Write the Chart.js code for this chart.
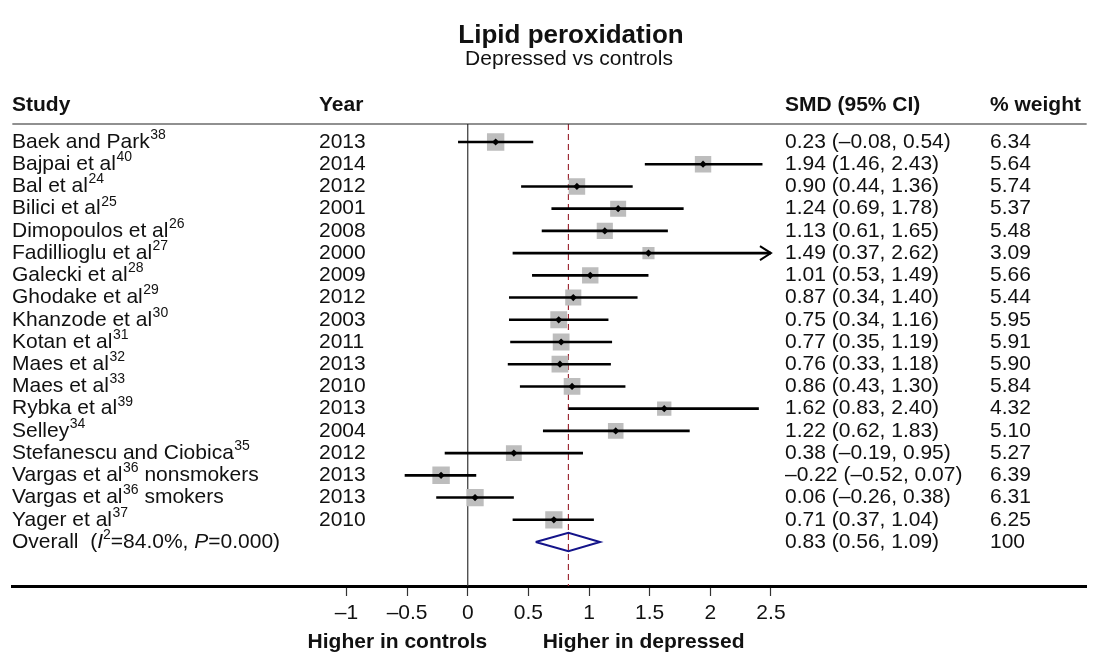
<!DOCTYPE html>
<html>
<head>
<meta charset="utf-8">
<script src="https://cdn.jsdelivr.net/npm/chart.js@4/dist/chart.umd.min.js"></script>
<style>
  html, body { margin: 0; padding: 0; background: #fff; }
  #wrap { width: 1099px; height: 654px; position: relative; }
</style>
</head>
<body>
<div id="wrap"><canvas id="chart" width="1099" height="654"></canvas></div>
<script>
const studyNames = ["Baek and Park", "Bajpai et al", "Bal et al", "Bilici et al", "Dimopoulos et al",
  "Fadillioglu et al", "Galecki et al", "Ghodake et al", "Khanzode et al", "Kotan et al", "Maes et al",
  "Maes et al", "Rybka et al", "Selley", "Stefanescu and Ciobica", "Vargas et al", "Vargas et al", "Yager et al"]
const studyRefs = ["38", "40", "24", "25", "26", "27", "28", "29", "30", "31", "32", "33", "39", "34", "35", "36", "36", "37"]
const studySuffix = ["", "", "", "", "", "", "", "", "", "", "", "", "", "", "", " nonsmokers", " smokers", ""]
const years = [2013, 2014, 2012, 2001, 2008, 2000, 2009, 2012, 2003, 2011, 2013, 2010, 2013, 2004, 2012, 2013, 2013, 2010]
const smd = [0.23, 1.94, 0.90, 1.24, 1.13, 1.49, 1.01, 0.87, 0.75, 0.77, 0.76, 0.86, 1.62, 1.22, 0.38, -0.22, 0.06, 0.71]
const ciLow = [-0.08, 1.46, 0.44, 0.69, 0.61, 0.37, 0.53, 0.34, 0.34, 0.35, 0.33, 0.43, 0.83, 0.62, -0.19, -0.52, -0.26, 0.37]
const ciHigh = [0.54, 2.43, 1.36, 1.78, 1.65, 2.62, 1.49, 1.40, 1.16, 1.19, 1.18, 1.30, 2.40, 1.83, 0.95, 0.07, 0.38, 1.04]
const weights = [6.34, 5.64, 5.74, 5.37, 5.48, 3.09, 5.66, 5.44, 5.95, 5.91, 5.90, 5.84, 4.32, 5.10, 5.27, 6.39, 6.31, 6.25]
const overall = { est: 0.83, lo: 0.56, hi: 1.09, weight: 100, i2: "84.0%", p: "0.000" }
const xTicks = [-1, -0.5, 0, 0.5, 1, 1.5, 2, 2.5]

const FONT = "Arial, 'Liberation Sans', Helvetica, sans-serif"
const TXT = "#111"
const xAxisMax = xTicks[xTicks.length - 1]
const overallRow = studyNames.length
const yMin = -0.81
const yMax = 19.98

const fmt = v => (v < 0 ? "\u2013" : "") + Math.abs(v).toFixed(2)
const fmtTick = v => (v < 0 ? "\u2013" : "") + Math.abs(v)

// one little line dataset per study CI
const ciSets = studyNames.map((n, i) => ({
  type: "line",
  data: [{ x: ciLow[i], y: i }, { x: Math.min(ciHigh[i], xAxisMax), y: i }],
  borderColor: "#000",
  borderWidth: 2.6,
  pointRadius: 0,
  order: 2
}))

const tablePlugin = {
  id: "forestTable",
  afterDatasetsDraw(chart) {
    const { ctx, scales } = chart
    const xs = scales.x, ys = scales.y

    // arrows for clipped CIs
    ctx.save()
    ctx.strokeStyle = "#000"
    ctx.lineWidth = 2
    ciHigh.forEach((h, i) => {
      if (h > xAxisMax) {
        const px = xs.getPixelForValue(xAxisMax), py = ys.getPixelForValue(i)
        ctx.beginPath()
        ctx.moveTo(px - 11, py - 7)
        ctx.lineTo(px, py)
        ctx.lineTo(px - 11, py + 7)
        ctx.stroke()
      }
    })
    ctx.restore()
  },
  afterDraw(chart) {
    const { ctx, chartArea, scales } = chart
    const ys = scales.y, xs = scales.x
    ctx.save()
    ctx.fillStyle = TXT
    ctx.textBaseline = "middle"

    // title
    ctx.textAlign = "center"
    ctx.font = "bold 26px " + FONT
    ctx.fillText("Lipid peroxidation", 571, 36)
    ctx.font = "21px " + FONT
    ctx.fillText("Depressed vs controls", 569, 59)

    // header
    ctx.textAlign = "left"
    ctx.font = "bold 21px " + FONT
    const hy = 105
    ctx.fillText("Study", 12, hy)
    ctx.fillText("Year", 319, hy)
    ctx.fillText("SMD (95% CI)", 785, hy)
    ctx.fillText("% weight", 990, hy)

    // header rule
    ctx.strokeStyle = "#222"
    ctx.lineWidth = 1.2
    ctx.beginPath()
    ctx.moveTo(chartArea.left, chartArea.top)
    ctx.lineTo(chartArea.right, chartArea.top)
    ctx.stroke()

    // rows
    studyNames.forEach((name, i) => {
      const y = ys.getPixelForValue(i)
      ctx.font = "21px " + FONT
      ctx.fillText(name, 12, y)
      let x = 12 + ctx.measureText(name).width
      ctx.font = "14px " + FONT
      ctx.fillText(studyRefs[i], x + 0.5, y - 7)
      x += ctx.measureText(studyRefs[i]).width + 0.5
      ctx.font = "21px " + FONT
      if (studySuffix[i]) ctx.fillText(studySuffix[i], x, y)
      ctx.fillText(String(years[i]), 319, y)
      ctx.fillText(fmt(smd[i]) + " (" + fmt(ciLow[i]) + ", " + fmt(ciHigh[i]) + ")", 785, y)
      ctx.fillText(weights[i].toFixed(2), 990, y)
    })

    // overall row
    const oy = ys.getPixelForValue(overallRow)
    const parts = [
      ["Overall  (", "21px", 0], ["I", "italic 21px", 0], ["2", "14px", -7],
      ["=" + overall.i2 + ", ", "21px", 0], ["P", "italic 21px", 0], ["=" + overall.p + ")", "21px", 0]
    ]
    let ox = 12
    parts.forEach(([t, f, dy]) => {
      ctx.font = f + " " + FONT
      ctx.fillText(t, ox, oy + dy)
      ox += ctx.measureText(t).width
    })
    ctx.font = "21px " + FONT
    ctx.fillText(fmt(overall.est) + " (" + fmt(overall.lo) + ", " + fmt(overall.hi) + ")", 785, oy)
    ctx.fillText(String(overall.weight), 990, oy)

    // axis captions
    ctx.textAlign = "center"
    ctx.font = "bold 21px " + FONT
    ctx.fillText("Higher in controls", xs.getPixelForValue(-0.58), 642)
    ctx.fillText("Higher in depressed", xs.getPixelForValue(1.45), 642)
    ctx.restore()
  }
}

new Chart(document.getElementById("chart"), {
  type: "scatter",
  data: {
    datasets: [
      {
        // study weights (grey boxes)
        data: smd.map((v, i) => ({ x: v, y: i })),
        pointStyle: "rect",
        backgroundColor: "#bdbdbd",
        borderWidth: 0,
        pointRadius: c => 6.9 * Math.sqrt(weights[c.dataIndex]) / Math.SQRT2,
        order: 3
      },
      ...ciSets,
      {
        // point estimates
        data: smd.map((v, i) => ({ x: v, y: i })),
        pointStyle: "rectRot",
        backgroundColor: "#000",
        borderWidth: 0,
        pointRadius: 3.6,
        order: 1
      },
      {
        // null line
        type: "line",
        data: [{ x: 0, y: yMin }, { x: 0, y: yMax }],
        borderColor: "#333",
        borderWidth: 1.2,
        pointRadius: 0,
        order: 4
      },
      {
        // overall effect line
        type: "line",
        data: [{ x: overall.est, y: yMin }, { x: overall.est, y: yMax }],
        borderColor: "#9e2a35",
        borderWidth: 1.2,
        borderDash: [6, 4],
        pointRadius: 0,
        order: 4
      },
      {
        // overall diamond
        type: "line",
        data: [
          { x: overall.lo, y: overallRow }, { x: overall.est, y: overallRow - 0.41 },
          { x: overall.hi, y: overallRow }, { x: overall.est, y: overallRow + 0.41 },
          { x: overall.lo, y: overallRow }
        ],
        borderColor: "#14148a",
        borderWidth: 2,
        pointRadius: 0,
        tension: 0,
        order: 1
      }
    ]
  },
  options: {
    responsive: false,
    animation: false,
    devicePixelRatio: 1,
    layout: { padding: { left: 12, right: 9, top: 124, bottom: 28 } },
    plugins: { legend: { display: false }, tooltip: { enabled: false } },
    scales: {
      x: {
        type: "linear",
        min: -3.755,
        max: 5.103,
        afterBuildTicks: s => { s.ticks = xTicks.map(v => ({ value: v })) },
        afterFit: s => { s.height = 40 },
        border: { display: true, color: "#000", width: 3 },
        grid: { drawOnChartArea: false, drawTicks: true, tickLength: 10, tickColor: "#333", tickWidth: 1.2 },
        ticks: {
          color: TXT,
          font: { family: FONT, size: 21 },
          padding: 5,
          maxRotation: 0,
          autoSkip: false,
          callback: v => fmtTick(v)
        }
      },
      y: {
        type: "linear",
        display: false,
        reverse: true,
        min: yMin,
        max: yMax
      }
    }
  },
  plugins: [tablePlugin]
})
</script>
</body>
</html>
